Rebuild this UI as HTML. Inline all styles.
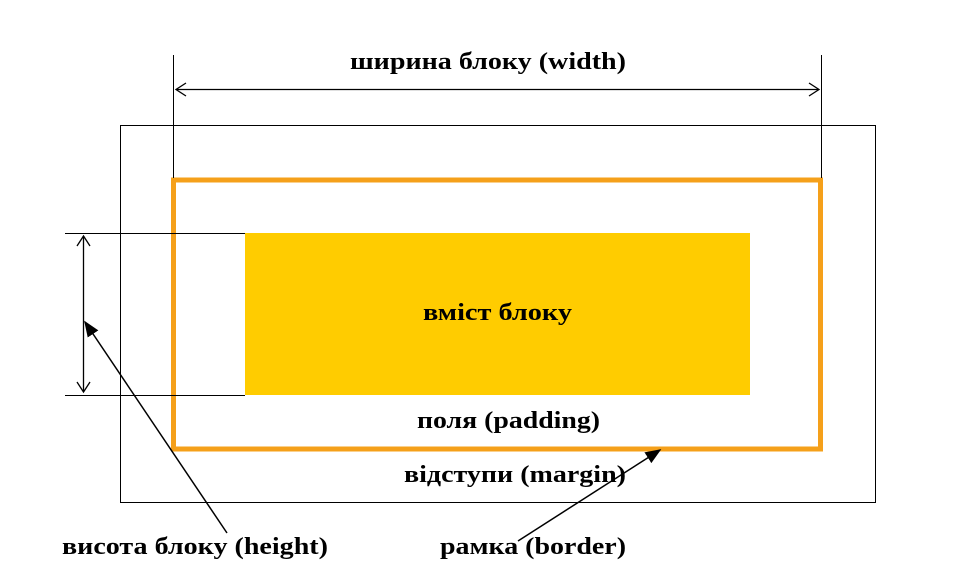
<!DOCTYPE html>
<html><head><meta charset="utf-8"><style>
html,body{margin:0;padding:0;background:#fff;width:956px;height:574px;overflow:hidden}
text{font-family:"Liberation Serif",serif;font-weight:bold;font-size:24px;fill:#000}
</style></head><body>
<svg width="956" height="574" viewBox="0 0 956 574" xmlns="http://www.w3.org/2000/svg">
<defs>
<marker id="f2" viewBox="0 0 10 10" refX="9" refY="5" markerWidth="16" markerHeight="16" orient="auto" markerUnits="userSpaceOnUse">
<path d="M0,1 L10,5 L0,9 z" fill="#000"/></marker>
</defs>
<rect x="120.5" y="125.5" width="755" height="377" fill="none" stroke="#000" stroke-width="1"/>
<rect x="245" y="233" width="505" height="162" fill="#FFCC00"/>
<rect x="173.5" y="180" width="647" height="269" fill="none" stroke="#F5A01A" stroke-width="5"/>
<line x1="173.5" y1="55" x2="173.5" y2="178" stroke="#000" stroke-width="1"/>
<line x1="821.5" y1="55" x2="821.5" y2="178" stroke="#000" stroke-width="1"/>
<line x1="176" y1="89.5" x2="819" y2="89.5" stroke="#000" stroke-width="1.3"/>
<polyline points="186,83 176,89.5 186,96" fill="none" stroke="#000" stroke-width="1.3"/>
<polyline points="809,83 819,89.5 809,96" fill="none" stroke="#000" stroke-width="1.3"/>
<line x1="65" y1="233.5" x2="245" y2="233.5" stroke="#000" stroke-width="1"/>
<line x1="65" y1="395.5" x2="245" y2="395.5" stroke="#000" stroke-width="1"/>
<line x1="83.5" y1="236" x2="83.5" y2="392" stroke="#000" stroke-width="1.3"/>
<polyline points="77,246 83.5,236 90,246" fill="none" stroke="#000" stroke-width="1.3"/>
<polyline points="77,382 83.5,392 90,382" fill="none" stroke="#000" stroke-width="1.3"/>
<line x1="227" y1="533" x2="85" y2="322" stroke="#000" stroke-width="1.5" marker-end="url(#f2)"/>
<line x1="518" y1="541" x2="660" y2="450" stroke="#000" stroke-width="1.5" marker-end="url(#f2)"/>
<text x="350" y="69" textLength="276" lengthAdjust="spacingAndGlyphs">ширина блоку (width)</text>
<text x="423" y="320" textLength="149" lengthAdjust="spacingAndGlyphs">вміст блоку</text>
<text x="417" y="428" textLength="183" lengthAdjust="spacingAndGlyphs">поля (padding)</text>
<text x="404" y="482" textLength="222" lengthAdjust="spacingAndGlyphs">відступи (margin)</text>
<text x="62" y="554" textLength="266" lengthAdjust="spacingAndGlyphs">висота блоку (height)</text>
<text x="440" y="554" textLength="186" lengthAdjust="spacingAndGlyphs">рамка (border)</text>
</svg>
</body></html>
